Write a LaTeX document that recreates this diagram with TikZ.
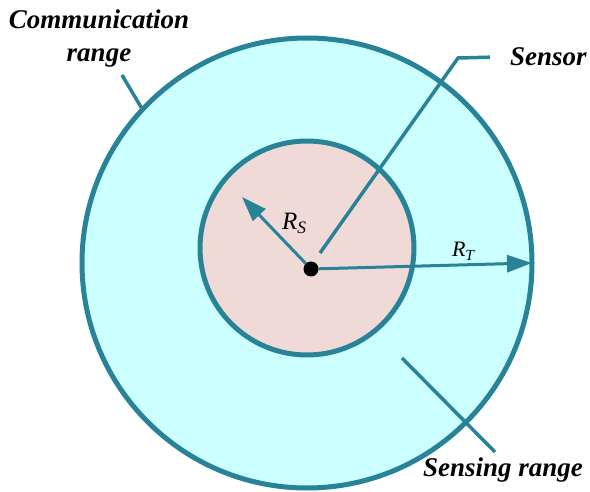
\documentclass[tikz,border=0pt]{standalone}
\usepackage{fontspec}
\setmainfont{Liberation Serif}
\usetikzlibrary{arrows.meta, positioning}
\definecolor{rangeteal}{RGB}{40, 131, 152}
\definecolor{commcyan}{RGB}{204, 255, 255}
\definecolor{sensepink}{RGB}{240, 218, 215}

\begin{document}
\begin{tikzpicture}[
    x=1pt, y=-1pt,
    every node/.style={inner sep=0pt, outer sep=0pt},
    zone/.style={circle, draw=rangeteal, line width=5pt},
    pointer/.style={draw=rangeteal, line width=3.5pt},
    radarrow/.style={draw=rangeteal, line width=3pt, -{Triangle[length=25pt, width=17pt]}},
    lbl/.style={font=\fontsize{27}{33}\selectfont\bfseries\itshape, align=center},
    rlbl/.style={font=\fontsize{25}{30}\selectfont\itshape}
]

\useasboundingbox[fill=white] (0,0) rectangle (590,492);

% Communication and sensing zones
\node[zone, fill=commcyan, minimum size=450pt] (comm) at (307,263) {};
\node[zone, fill=sensepink, minimum size=214pt] (sens) at (307,248) {};

% Radii from the sensor
\node[circle, fill=black, minimum size=15pt] (sensor) at (311,269) {};
\coordinate (rsend) at (242,197);
\draw[radarrow] (sensor) -- (rsend);
\draw[radarrow] (sensor) -- (comm.east);
\node[rlbl, anchor=base west] (rslbl) at (282,230) {R\textsubscript{S}};
\node[rlbl, anchor=base west, font=\fontsize{22}{26}\selectfont\itshape] (rtlbl) at (452,257) {R\textsubscript{T}};

% Labels
\node[lbl, anchor=base] (commlbl) at (99,62) {Communication\\range};
\node[lbl, anchor=base west] (sensorlbl) at (510,66) {Sensor};
\node[lbl, anchor=base west] (sensinglbl) at (423,476) {Sensing range};

% Pointers
\coordinate (commtip) at (122,75);
\coordinate (sensorstart) at (320,253);
\coordinate (sensorknee) at (458,58);
\coordinate (sensingstart) at (402,358);
\coordinate (sensingtip) at (495,452);
\draw[pointer] (commtip) -- (comm.137);
\draw[pointer] (sensorstart) -- (sensorknee) -- ([xshift=-20pt]sensorlbl.west);
\draw[pointer] (sensingstart) -- (sensingtip);

\end{tikzpicture}
\end{document}
